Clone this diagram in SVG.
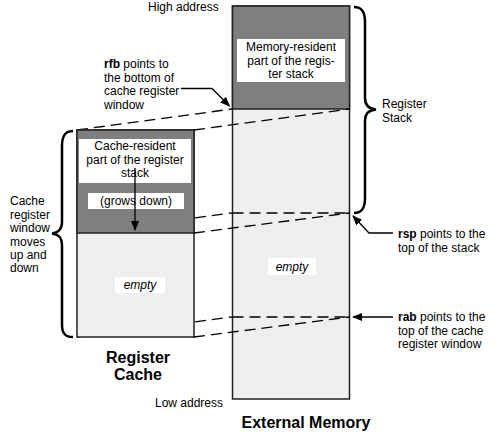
<svg xmlns="http://www.w3.org/2000/svg" width="494" height="432" viewBox="0 0 494 432">
<defs>
<marker id="ah" markerWidth="10" markerHeight="8" refX="9" refY="4" orient="auto" markerUnits="userSpaceOnUse">
<path d="M0,0 L10,4 L0,8 Z" fill="#000"/>
</marker>
<style>
text{font-family:"Liberation Sans",Arial,sans-serif;font-size:12px;fill:#000}
.b{font-weight:bold}
.t{font-weight:bold;font-size:16px}
.i{font-style:italic}
.dark{fill:#7f7f7f;stroke:#222;stroke-width:1.5}
.light{fill:#efefef;stroke:#222;stroke-width:1.5}
.lab{fill:#fff;stroke:none}
.dash{fill:none;stroke:#000;stroke-width:1.3;stroke-dasharray:11,6}
.ln{fill:none;stroke:#000;stroke-width:1.3}
.brace{fill:none;stroke:#000;stroke-width:2.5}
</style>
</defs>
<rect width="494" height="432" fill="#fff"/>

<g id="connectors">
<!-- projection lines behind boxes -->
<line class="dash" x1="77" y1="130" x2="232" y2="109"/>
<line class="dash" x1="77" y1="233" x2="232" y2="213"/>
<line class="dash" x1="77" y1="337" x2="232" y2="317"/>
</g>

<g id="external-memory">
<rect class="light" x="232.5" y="6" width="117" height="393"/>
<rect class="dark" x="232.5" y="6" width="117" height="103"/>
<rect class="lab" x="237" y="39" width="108" height="43"/>
<text x="291" y="51" text-anchor="middle">Memory-resident</text>
<text x="291" y="64.5" text-anchor="middle">part of the regis-</text>
<text x="291" y="78" text-anchor="middle">ter stack</text>
<rect class="lab" x="268" y="258" width="48" height="17"/>
<text class="i" x="292" y="270.5" text-anchor="middle">empty</text>
</g>

<g id="register-cache">
<rect class="light" x="77" y="130" width="117" height="207"/>
<rect class="dark" x="77" y="130" width="117" height="103"/>
<rect class="lab" x="79" y="139" width="112" height="44"/>
<text x="135" y="150" text-anchor="middle">Cache-resident</text>
<text x="135" y="163.5" text-anchor="middle">part of the register</text>
<text x="135" y="177" text-anchor="middle">stack</text>
<rect class="lab" x="88" y="193" width="96" height="16"/>
<text x="136" y="204.5" text-anchor="middle">(grows down)</text>
<rect class="lab" x="115" y="277" width="50" height="16"/>
<text class="i" x="140" y="289" text-anchor="middle">empty</text>
<line class="ln" x1="135" y1="168" x2="135" y2="230" marker-end="url(#ah)"/>
</g>

<g id="connectors-front">
<line class="dash" x1="194" y1="130" x2="349.5" y2="109"/>
<line class="dash" x1="194" y1="233" x2="349.5" y2="213"/>
<line class="dash" x1="194" y1="337" x2="349.5" y2="317"/>
<line class="dash" x1="232.5" y1="213" x2="349.5" y2="213"/>
<line class="dash" x1="232.5" y1="317" x2="349.5" y2="317"/>
<polyline class="ln" points="181,88.5 212,88.5 229.5,106" marker-end="url(#ah)"/>
<polyline class="ln" points="393,233 369,233 353,216" marker-end="url(#ah)"/>
<line class="ln" x1="393" y1="317" x2="353" y2="317" marker-end="url(#ah)"/>
</g>

<g id="register-stack-brace">
<path class="brace" d="M354,7 C362,7 365,12 365,22 L365,98 C365,105 369,109 376,109.5 C369,110 365,114 365,121 L365,198 C365,208 362,213 354,213"/>
<text x="382" y="108">Register</text>
<text x="382" y="121.5">Stack</text>
</g>

<g id="cache-window-brace">
<path class="brace" d="M73,131 C65,131 62,136 62,146 L62,222 C62,229 58,233 52,233.5 C58,234 62,238 62,245 L62,325 C62,333 65,337 73,337"/>
<text x="10" y="205">Cache</text>
<text x="10" y="218.5">register</text>
<text x="10" y="232">window</text>
<text x="10" y="245.5">moves</text>
<text x="10" y="259">up and</text>
<text x="10" y="272">down</text>
</g>

<g id="labels">
<text x="148" y="11">High address</text>
<text x="155" y="407">Low address</text>
<text x="104" y="68"><tspan class="b">rfb</tspan> points to</text>
<text x="104" y="81.5">the bottom of</text>
<text x="104" y="95">cache register</text>
<text x="104" y="108.5">window</text>
<text x="398" y="238"><tspan class="b">rsp</tspan> points to the</text>
<text x="398" y="251.5">top of the stack</text>
<text x="398" y="321"><tspan class="b">rab</tspan> points to the</text>
<text x="398" y="334.5">top of the cache</text>
<text x="398" y="348">register window</text>
<text class="t" x="138" y="363" text-anchor="middle">Register</text>
<text class="t" x="138" y="380" text-anchor="middle">Cache</text>
<text class="t" x="306" y="428" text-anchor="middle">External Memory</text>
</g>
</svg>
